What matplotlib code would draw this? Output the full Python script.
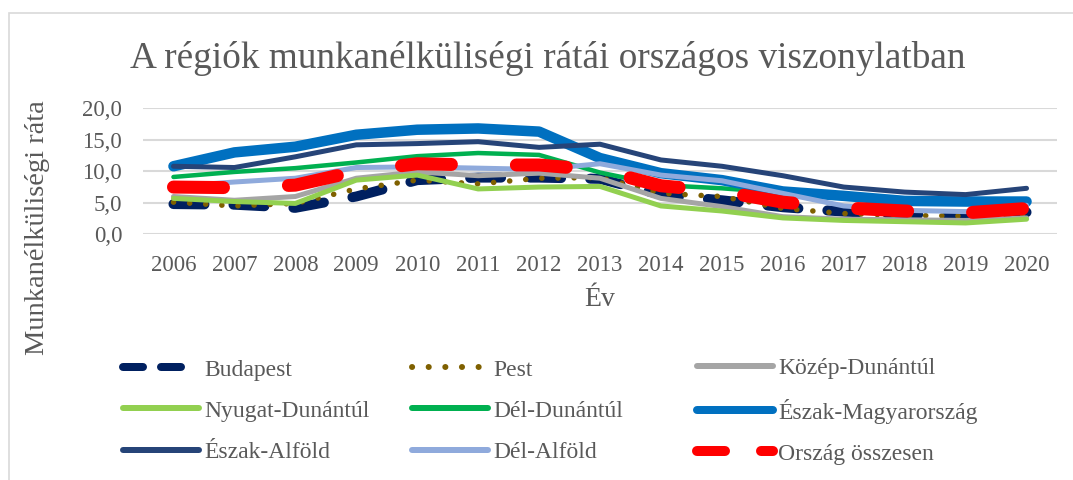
import matplotlib
matplotlib.use("Agg")
import matplotlib.pyplot as plt
from matplotlib.patches import Rectangle
from matplotlib.lines import Line2D

years = [str(y) for y in range(2006, 2021)]

budapest = [4.8, 4.7, 4.2, 6.0, 8.6, 9.0, 9.0, 8.8, 6.3, 5.4, 4.3, 3.6, 3.2, 3.1, 3.5]
pest = [5.1, 4.5, 4.9, 7.2, 8.6, 8.0, 8.9, 9.0, 6.5, 6.0, 4.1, 3.3, 3.0, 2.9, 3.2]
kozep_dunantul = [6.0, 5.4, 6.0, 8.9, 9.9, 9.3, 9.7, 8.9, 5.7, 4.4, 2.8, 2.4, 2.3, 2.2, 2.6]
nyugat_dunantul = [5.7, 5.2, 4.9, 8.6, 9.4, 7.2, 7.5, 7.6, 4.5, 3.7, 2.6, 2.2, 2.0, 1.8, 2.4]
del_dunantul = [9.1, 9.9, 10.5, 11.4, 12.4, 12.9, 12.6, 9.8, 7.8, 7.3, 6.6, 5.8, 5.4, 4.9, 5.0]
eszak_magyarorszag = [10.8, 13.0, 13.9, 15.8, 16.6, 16.8, 16.3, 12.1, 9.7, 8.6, 6.8, 6.1, 5.3, 5.2, 5.2]
eszak_alfold = [10.8, 10.6, 12.3, 14.2, 14.4, 14.7, 13.8, 14.3, 11.8, 10.8, 9.3, 7.5, 6.7, 6.3, 7.3]
del_alfold = [7.6, 8.3, 8.9, 10.6, 10.7, 10.5, 10.3, 11.2, 9.4, 8.5, 6.5, 4.5, 3.8, 3.6, 4.6]
orszag = [7.5, 7.4, 7.8, 10.0, 11.2, 11.0, 11.0, 10.2, 7.7, 6.8, 5.1, 4.2, 3.7, 3.4, 4.1]

plt.rcParams["font.family"] = ["Liberation Serif", "DejaVu Serif"]
plt.rcParams["lines.scale_dashes"] = False

GRAY = "#595959"
px = 0.72  # pixel -> pont

fig = plt.figure(figsize=(10.73, 4.8), dpi=100)
ax = fig.add_axes([143 / 1073, 1 - 234.3 / 480, 914 / 1073, 126 / 480])

# külső keret
fig.patches.append(Rectangle((8.5 / 1073, -0.1), 1.2, 1 - 12.5 / 480 + 0.1,
                             transform=fig.transFigure, fill=False,
                             edgecolor="#d9d9d9", linewidth=1.2))

x = range(len(years))

# név, adatok, szín, vonalvastagság (px), stílus a grafikonon, stílus a jelmagyarázatban
series = [
    ("Budapest", budapest, "#002060", 10, (0, (31 * px, 29 * px)), 8, (0, (20 * px, 18 * px))),
    ("Pest", pest, "#7f6000", 5.5, (0, (0.1, 16 * px)), 6, (0, (0.1, 16.5 * px))),
    ("Közép-Dunántúl", kozep_dunantul, "#a5a5a5", 5, "-", 6, "-"),
    ("Nyugat-Dunántúl", nyugat_dunantul, "#92d050", 5, "-", 6, "-"),
    ("Dél-Dunántúl", del_dunantul, "#00b050", 4.5, "-", 6, "-"),
    ("Észak-Magyarország", eszak_magyarorszag, "#0070c0", 10.5, "-", 8, "-"),
    ("Észak-Alföld", eszak_alfold, "#264478", 5, "-", 6, "-"),
    ("Dél-Alföld", del_alfold, "#8faadc", 5, "-", 6, "-"),
    ("Ország összesen", orszag, "#ff0000", 13, (0, (50 * px, 65 * px)), 10, (0, (28 * px, 36 * px))),
]

handles = []
for name, vals, color, lw, ls, leg_lw, leg_ls in series:
    ax.plot(x, vals, color=color, linewidth=lw * px, linestyle=ls,
            solid_capstyle="round", solid_joinstyle="round", dash_capstyle="round")
    handles.append(Line2D([], [], color=color, linewidth=leg_lw * px, linestyle=leg_ls,
                          solid_capstyle="round", dash_capstyle="round", label=name))

ax.set_xlim(-0.5, len(years) - 0.5)
ax.set_ylim(0, 20)
ax.set_yticks([0, 5, 10, 15, 20])
ax.set_yticklabels([f"{v:.1f}".replace(".", ",") for v in [0, 5, 10, 15, 20]])
ax.set_xticks(list(x))
ax.set_xticklabels(years)
ax.tick_params(axis="both", length=0, labelsize=16.5, colors=GRAY)
ax.tick_params(axis="x", pad=15)
ax.tick_params(axis="y", pad=15)
ax.grid(axis="y", color="#d9d9d9", linewidth=1.5)
ax.set_axisbelow(True)
for s in ax.spines.values():
    s.set_visible(False)

fig.text(38 / 1073, 1 - 228 / 480, "Munkanélküliségi ráta", rotation=90,
         ha="center", va="center", fontsize=20.5, color=GRAY)
fig.text(600 / 1073, 1 - 300 / 480, "Év", ha="center", va="center", fontsize=20, color=GRAY)

fig.text(548 / 1073, 1 - 58 / 480, "A régiók munkanélküliségi rátái országos viszonylatban",
         ha="center", va="center", fontsize=26.8, color=GRAY)

# jelmagyarázat: három oszlop, soronként kitöltve
col_x = [123, 412, 697]
for c in range(3):
    leg = fig.legend(handles=handles[c::3], loc="center left",
                     bbox_to_anchor=(col_x[c] / 1073, 1 - 411 / 480),
                     frameon=False, prop={"family": ["Liberation Serif"], "size": 17},
                     handlelength=3.2, handletextpad=0.25,
                     borderpad=0, borderaxespad=0, labelspacing=0.83)
    for t in leg.get_texts():
        t.set_color(GRAY)

fig.savefig("out.png", dpi=100)
